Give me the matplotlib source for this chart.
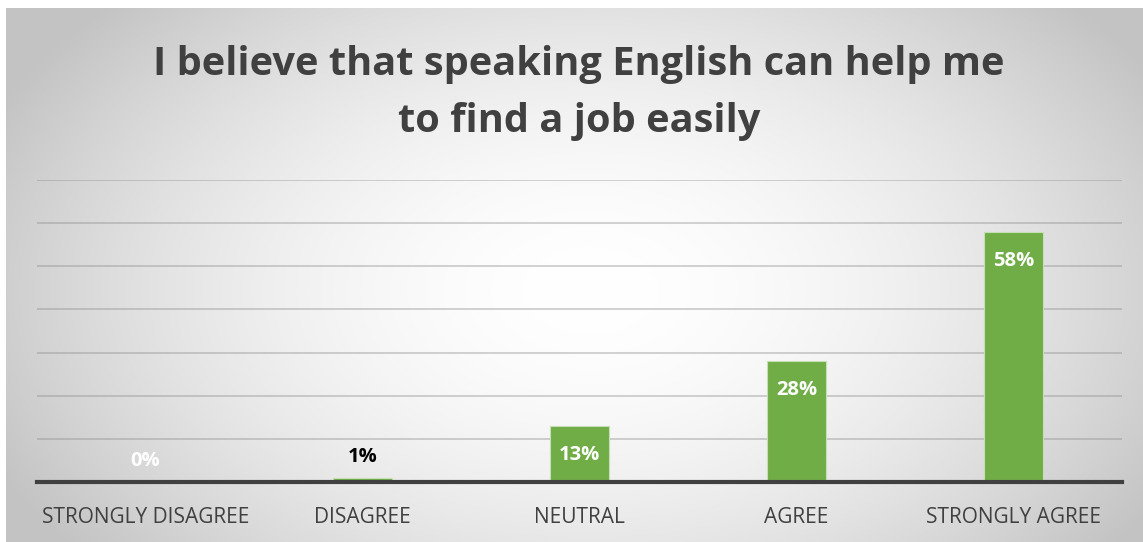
import numpy as np
import matplotlib
matplotlib.use("Agg")
import matplotlib.pyplot as plt

categories = ["STRONGLY DISAGREE", "DISAGREE", "NEUTRAL", "AGREE", "STRONGLY AGREE"]
values = [0, 1, 13, 28, 58]
label_colors = ["white", "black", "white", "white", "white"]
title = "I believe that speaking English can help me\nto find a job easily"

W, H = 1143, 542
fig = plt.figure(figsize=(W / 100, H / 100), dpi=100)
fig.patch.set_facecolor("white")

# Radial gradient backdrop for the chart area
bg = fig.add_axes([0, 0, 1, 1], zorder=0)
bg.set_xlim(0, W)
bg.set_ylim(H, 0)
bg.axis("off")
yy, xx = np.mgrid[8:H, 6:W]
d = np.sqrt(((xx - 590) / 660.0) ** 2 + ((yy - 290) / 420.0) ** 2)
shade = 255 - 60 * np.clip(d, 0, 1) ** 1.8
img = np.dstack([shade, shade, shade]) / 255.0
bg.imshow(img, extent=(6, W, H, 8), aspect="auto", interpolation="bilinear")

left, right = 37 / W, 1122 / W
bottom, top = (H - 482) / H, (H - 180) / H
ax = fig.add_axes([left, bottom, right - left, top - bottom], zorder=1)
ax.patch.set_alpha(0)

x = np.arange(len(categories))
bars = ax.bar(x, values, width=0.272, color="#70ad47", edgecolor="#c5e0b4",
              linewidth=0.8, zorder=3)

ax.set_xlim(-0.5, len(categories) - 0.5)
ax.set_ylim(0, 70)
ax.set_yticks(np.arange(10, 71, 10))
ax.yaxis.grid(True, color="#8c8c8c", alpha=0.45, linewidth=1.2, zorder=0)
ax.tick_params(axis="y", length=0, labelleft=False)
ax.tick_params(axis="x", length=0, pad=18)
for s in ["top", "right", "left"]:
    ax.spines[s].set_visible(False)
ax.spines["bottom"].set_color("#404040")
ax.spines["bottom"].set_linewidth(3)
ax.spines["bottom"].set_zorder(4)

ax.set_xticks(x)
ax.set_xticklabels(categories, fontsize=15, color="#404040", family="Open Sans")

for xi, v, c in zip(x, values, label_colors):
    offset = -21 if v >= 5 else 15
    ax.annotate(f"{v}%", (xi, v), xytext=(0, offset), textcoords="offset points",
                ha="center", va="center", fontsize=14.5, fontweight="bold",
                color=c, family="Open Sans", zorder=5)

fig.text(579 / W, 1 - 93 / H, title, ha="center", va="center", fontsize=28.6,
         fontweight="bold", color="#404040", family="Open Sans", linespacing=1.62,
         zorder=5)

fig.savefig("out.png", dpi=100)
